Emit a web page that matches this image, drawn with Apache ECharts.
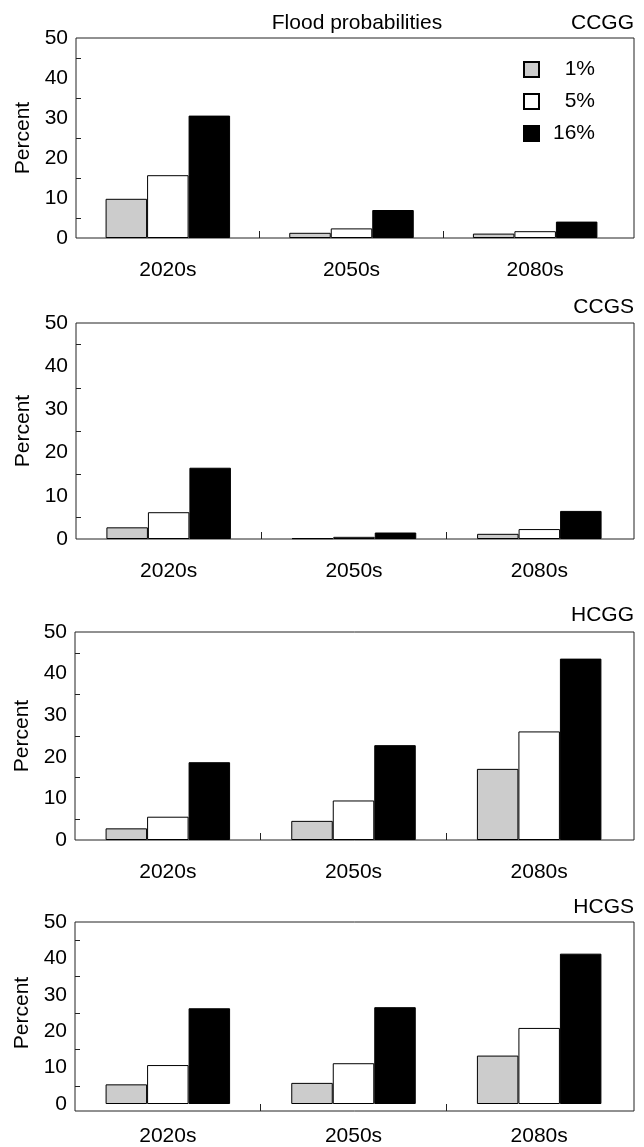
<!DOCTYPE html>
<html><head><meta charset="utf-8">
<script src="https://cdn.jsdelivr.net/npm/echarts@6/dist/echarts.min.js"></script>
<style>html,body{margin:0;padding:0;background:#fff}#c{width:644px;height:1147px}</style>
</head><body><div id="c"></div>
<script>
const categories = ['2020s', '2050s', '2080s'];
const seriesNames = ['1%', '5%', '16%'];
const panelNames = ['CCGG', 'CCGS', 'HCGG', 'HCGS'];
const chartTitle = 'Flood probabilities';
const yAxisName = 'Percent';

const ccgg1 = [9.8, 1.3, 1.1];
const ccgg5 = [15.7, 2.4, 1.7];
const ccgg16 = [30.6, 7.0, 4.1];

const ccgs1 = [2.7, 0.2, 1.2];
const ccgs5 = [6.2, 0.5, 2.3];
const ccgs16 = [16.5, 1.5, 6.5];

const hcgg1 = [2.8, 4.6, 17.1];
const hcgg5 = [5.6, 9.5, 26.1];
const hcgg16 = [18.7, 22.8, 43.6];

const hcgs1 = [5.4, 5.8, 13.3];
const hcgs5 = [10.7, 11.2, 20.9];
const hcgs16 = [26.3, 26.6, 41.3];

const yMin = 0, yMax = 50, yStep = 10;

const panelData = [
  [ccgg1, ccgg5, ccgg16],
  [ccgs1, ccgs5, ccgs16],
  [hcgg1, hcgg5, hcgg16],
  [hcgs1, hcgs5, hcgs16]
];

const FONT = '"Liberation Sans", Arial, sans-serif';
const FS = 21;
const colors = ['#cccccc', '#ffffff', '#000000'];
const lineCol = '#222';

const layouts = [
  {left: 76, top: 38, height: 200, dataRight: 627, frameRight: 634, labelY: 23},
  {left: 76, top: 323, height: 216, dataRight: 632, frameRight: 634, labelY: 307},
  {left: 75, top: 632, height: 208, dataRight: 632, frameRight: 634, labelY: 615},
  {left: 75, top: 922, height: 189, dataRight: 632, frameRight: 634, labelY: 907}
];

const grid = [], xAxis = [], yAxis = [], series = [], graphic = [];

layouts.forEach((L, i) => {
  const dg = 2 * i, fg = 2 * i + 1;
  grid.push({left: L.left, width: L.dataRight - L.left, top: L.top, height: L.height, show: false});
  grid.push({left: L.left, width: L.frameRight - L.left, top: L.top, height: L.height,
             show: true, borderColor: lineCol, borderWidth: 1, backgroundColor: 'transparent'});
  xAxis.push({
    type: 'category', gridIndex: dg, data: categories,
    axisLine: {show: false},
    axisTick: {show: false},
    axisLabel: {margin: 22, fontSize: FS, fontFamily: FONT, color: '#000'},
    splitLine: {show: false}
  });
  const frameMax = categories.length * (L.frameRight - L.left) / (L.dataRight - L.left);
  xAxis.push({
    type: 'value', gridIndex: fg, min: 0, max: frameMax,
    axisLine: {show: false},
    axisTick: {show: true, inside: true, length: 7, customValues: [1, 2], lineStyle: {color: lineCol}},
    axisLabel: {show: false},
    splitLine: {show: false}
  });
  yAxis.push({
    type: 'value', gridIndex: dg, min: yMin, max: yMax, interval: yStep,
    name: yAxisName, nameLocation: 'middle', nameGap: 40,
    nameTextStyle: {fontSize: FS, fontFamily: FONT, color: '#000'},
    axisLine: {show: false},
    axisTick: {show: false, inside: true},
    minorTick: {show: true, splitNumber: 2, length: 5, lineStyle: {color: lineCol, width: 1}},
    axisLabel: {margin: 8, fontSize: FS, fontFamily: FONT, color: '#000'},
    splitLine: {show: false}, minorSplitLine: {show: false}
  });
  yAxis.push({
    type: 'value', gridIndex: fg, min: yMin, max: yMax, show: false
  });
  panelData[i].forEach((arr, k) => {
    series.push({
      type: 'bar', name: seriesNames[k], xAxisIndex: dg, yAxisIndex: dg,
      data: arr, barWidth: 41.5, barGap: '0%',
      itemStyle: {color: colors[k], borderColor: '#000', borderWidth: 1},
      animation: false
    });
  });
  graphic.push({
    type: 'text', x: L.frameRight, y: L.labelY,
    style: {text: panelNames[i], fontSize: FS, fontFamily: FONT, fill: '#000', align: 'right', verticalAlign: 'middle'}
  });
});

graphic.push({
  type: 'text', x: 357, y: 23,
  style: {text: chartTitle, fontSize: FS, fontFamily: FONT, fill: '#000', align: 'center', verticalAlign: 'middle'}
});

const chart = echarts.init(document.getElementById('c'), null, {renderer: 'canvas'});
chart.setOption({
  backgroundColor: '#fff',
  animation: false,
  grid, xAxis, yAxis, series, graphic,
  legend: {
    data: seriesNames, orient: 'vertical', left: 523, top: 59, padding: 0,
    itemWidth: 15, itemHeight: 15, itemGap: 11, icon: 'rect', selectedMode: false,
    formatter: n => '{a|' + n + '}',
    textStyle: {rich: {a: {width: 51, align: 'right', fontSize: FS, fontFamily: FONT, color: '#000', lineHeight: 15}}}
  }
});
</script></body></html>
